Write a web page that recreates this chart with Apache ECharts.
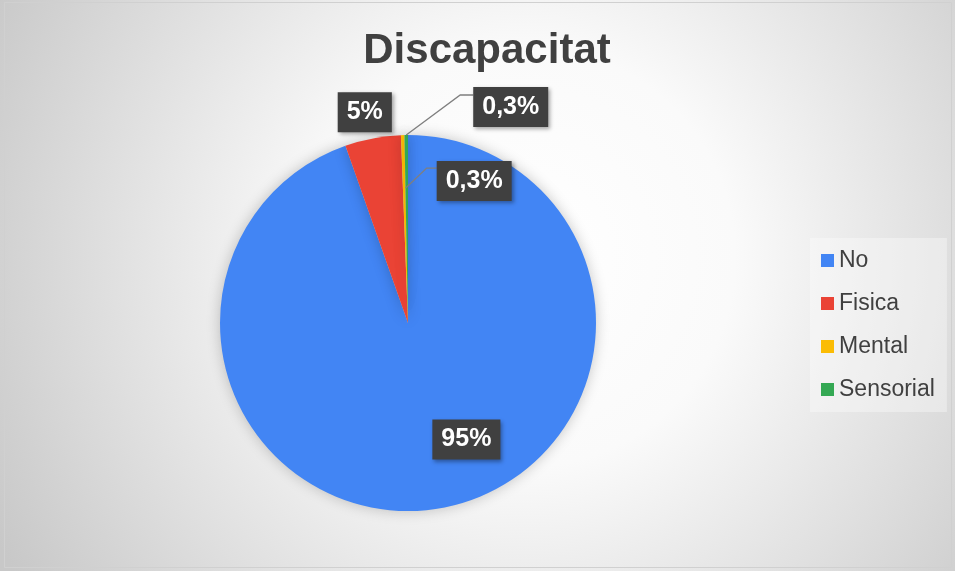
<!DOCTYPE html>
<html>
<head>
<meta charset="utf-8">
<script src="https://cdn.jsdelivr.net/npm/echarts@6/dist/echarts.min.js"></script>
<style>
  html, body { margin: 0; padding: 0; background: #fff; }
  #chart { width: 955px; height: 571px; }
</style>
</head>
<body>
<div id="chart"></div>
<script>
const categories = ["No", "Fisica", "Mental", "Sensorial"];
const values = [94.6, 4.8, 0.3, 0.3];
const colors = ["#4285F4", "#EA4335", "#FBBC04", "#34A853"];

const chart = echarts.init(document.getElementById("chart"));

const fmt = (v) => (v < 1 ? v.toFixed(1).replace(".", ",") : Math.round(v)) + "%";

const pieCenter = [408, 323];
const pieRadius = 188;

// label boxes sit on a transparent copy of the pie so leader lines draw over the slices
const labelLayout = function (p) {
  const i = p.dataIndex;
  if (i === 0) {
    const r = p.labelRect;
    return {
      x: r.x + r.width / 2 + 42,
      y: r.y + r.height / 2 + 21,
      align: "center",
      verticalAlign: "middle",
    };
  }
  const x0 = p.labelLinePoints[0][0];
  const y0 = p.labelLinePoints[0][1];
  if (i === 1) {
    return { x: x0 - 8, y: y0 - 26, align: "center", verticalAlign: "middle" };
  }
  if (i === 2) {
    return {
      x: x0 + 34,
      y: y0 + 46,
      align: "left",
      verticalAlign: "middle",
      labelLinePoints: [[x0 + 3, y0 + 53], [x0 + 24, y0 + 33], [x0 + 34, y0 + 33]],
    };
  }
  return {
    x: x0 + 67,
    y: y0 - 28,
    align: "left",
    verticalAlign: "middle",
    labelLinePoints: [[x0, y0], [x0 + 54, y0 - 40], [x0 + 67, y0 - 40]],
  };
};

const option = {
  animation: false,
  backgroundColor: {
    type: "radial",
    x: 0.55,
    y: 0.45,
    r: 1.05,
    colorStops: [
      { offset: 0, color: "#ffffff" },
      { offset: 0.35, color: "#fafafa" },
      { offset: 1, color: "#c8c8c8" },
    ],
  },
  graphic: [
    {
      type: "rect",
      shape: { x: 4.5, y: 2.5, width: 947, height: 565 },
      style: { fill: "none", stroke: "#d0d0d0", lineWidth: 1 },
      silent: true,
    },
  ],
  title: {
    text: "Discapacitat",
    left: 487,
    textAlign: "center",
    top: 30,
    padding: 0,
    textStyle: {
      fontFamily: "Liberation Sans",
      fontSize: 42,
      fontWeight: "bold",
      color: "#404040",
    },
  },
  legend: {
    orient: "vertical",
    left: 810,
    top: 238,
    padding: [11, 12, 11, 11],
    itemGap: 20,
    itemWidth: 13,
    itemHeight: 13,
    icon: "rect",
    backgroundColor: "rgba(255,255,255,0.35)",
    data: categories,
    textStyle: {
      fontFamily: "Liberation Sans",
      fontSize: 23,
      color: "#404040",
    },
  },
  series: [
    {
      type: "pie",
      z: 2,
      center: pieCenter,
      radius: pieRadius,
      startAngle: 90,
      clockwise: true,
      itemStyle: {
        shadowBlur: 14,
        shadowColor: "rgba(0,0,0,0.22)",
      },
      label: { show: false },
      labelLine: { show: false },
      data: categories.map((name, i) => ({
        name: name,
        value: values[i],
        itemStyle: { color: colors[i] },
      })),
    },
    {
      type: "pie",
      z: 3,
      silent: true,
      center: pieCenter,
      radius: pieRadius,
      startAngle: 90,
      clockwise: true,
      avoidLabelOverlap: false,
      itemStyle: { color: "rgba(0,0,0,0)" },
      label: {
        show: true,
        position: "outside",
        formatter: (p) => fmt(p.value),
        fontFamily: "Liberation Sans",
        fontSize: 25,
        lineHeight: 26,
        fontWeight: "bold",
        color: "#ffffff",
        backgroundColor: "#404040",
        padding: [7, 9],
        shadowBlur: 4,
        shadowColor: "rgba(0,0,0,0.35)",
        shadowOffsetX: 2,
        shadowOffsetY: 2,
      },
      labelLine: {
        show: true,
        showAbove: true,
        lineStyle: { color: "#7f7f7f", width: 1.3 },
      },
      labelLayout: labelLayout,
      data: categories.map((name, i) => {
        const d = { name: name, value: values[i] };
        if (i === 0) d.label = { position: "inside" };
        if (i === 0) d.labelLine = { show: false };
        if (i === 1) d.labelLine = { lineStyle: { opacity: 0 } };
        return d;
      }),
    },
  ],
};

chart.setOption(option);
</script>
</body>
</html>
